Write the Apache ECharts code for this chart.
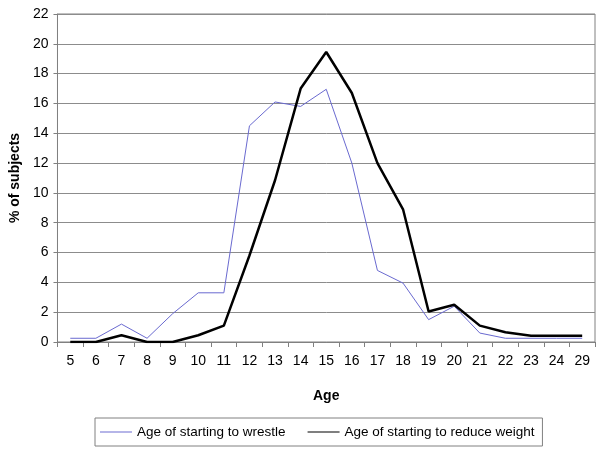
<!DOCTYPE html>
<html>
<head>
<meta charset="utf-8">
<script src="https://cdn.jsdelivr.net/npm/echarts@6/dist/echarts.min.js"></script>
<style>html,body{margin:0;padding:0;background:#fff}#c{width:600px;height:453px}</style>
</head>
<body>
<div id="c"></div>
<script>
const ages = ['5','6','7','8','9','10','11','12','13','14','15','16','17','18','19','20','21','22','23','24','29'];
const wrestle = [0.25,0.25,1.2,0.25,1.9,3.3,3.3,14.5,16.1,15.8,16.95,12.0,4.8,3.95,1.5,2.4,0.6,0.25,0.25,0.25,0.25];
const reduceWeight = [0,0,0.45,0,0,0.45,1.1,5.8,10.85,17.0,19.45,16.7,12.0,8.9,2.05,2.5,1.1,0.65,0.42,0.42,0.42];
const yTicks = {min:0, max:22, interval:2};
const FONT = "'Liberation Sans', Arial, sans-serif";
const chart = echarts.init(document.getElementById('c'), null, {renderer:'canvas'});
chart.setOption({
  animation:false,
  backgroundColor:'#fff',
  grid:{left:52, right:5, top:14, bottom:111, show:true, borderColor:'#808080', borderWidth:1, containLabel:false},
  legend:{
    left:95, top:418, orient:'horizontal',
    borderColor:'#808080', borderWidth:1, padding:[7,8,7,5],
    itemWidth:32, itemHeight:1, itemGap:22,
    icon:'rect',
    textStyle:{fontFamily:FONT, fontSize:13.5, color:'#000'},
    data:['Age of starting to wrestle','Age of starting to reduce weight']
  },
  xAxis:{
    type:'category', data:ages, boundaryGap:true,
    name:'Age', nameLocation:'middle', nameGap:47,
    nameTextStyle:{fontFamily:FONT, fontSize:14, fontWeight:'bold', color:'#000'},
    axisLine:{lineStyle:{color:'#808080'}},
    axisTick:{show:true, length:5, lineStyle:{color:'#808080'}},
    axisLabel:{fontFamily:FONT, fontSize:14, color:'#000', margin:12, interval:0},
    splitLine:{show:false}
  },
  yAxis:{
    type:'value', min:yTicks.min, max:yTicks.max, interval:yTicks.interval,
    name:'% of subjects', nameLocation:'middle', nameGap:21, nameRotate:90,
    nameTextStyle:{fontFamily:FONT, fontSize:14, fontWeight:'bold', color:'#000'},
    axisLine:{show:true, lineStyle:{color:'#808080'}},
    axisTick:{show:true, length:4, lineStyle:{color:'#808080'}},
    axisLabel:{fontFamily:FONT, fontSize:14, color:'#000', margin:9},
    splitLine:{show:true, lineStyle:{color:'#8c8c8c', width:1}}
  },
  series:[
    {name:'Age of starting to wrestle', type:'line', data:wrestle, symbol:'none',
     lineStyle:{color:'#6a6ad0', width:1}, itemStyle:{color:'#6a6ad0'}},
    {name:'Age of starting to reduce weight', type:'line', data:reduceWeight, symbol:'none',
     lineStyle:{color:'#000', width:2.5}, itemStyle:{color:'#000'}}
  ]
});
</script>
</body>
</html>
